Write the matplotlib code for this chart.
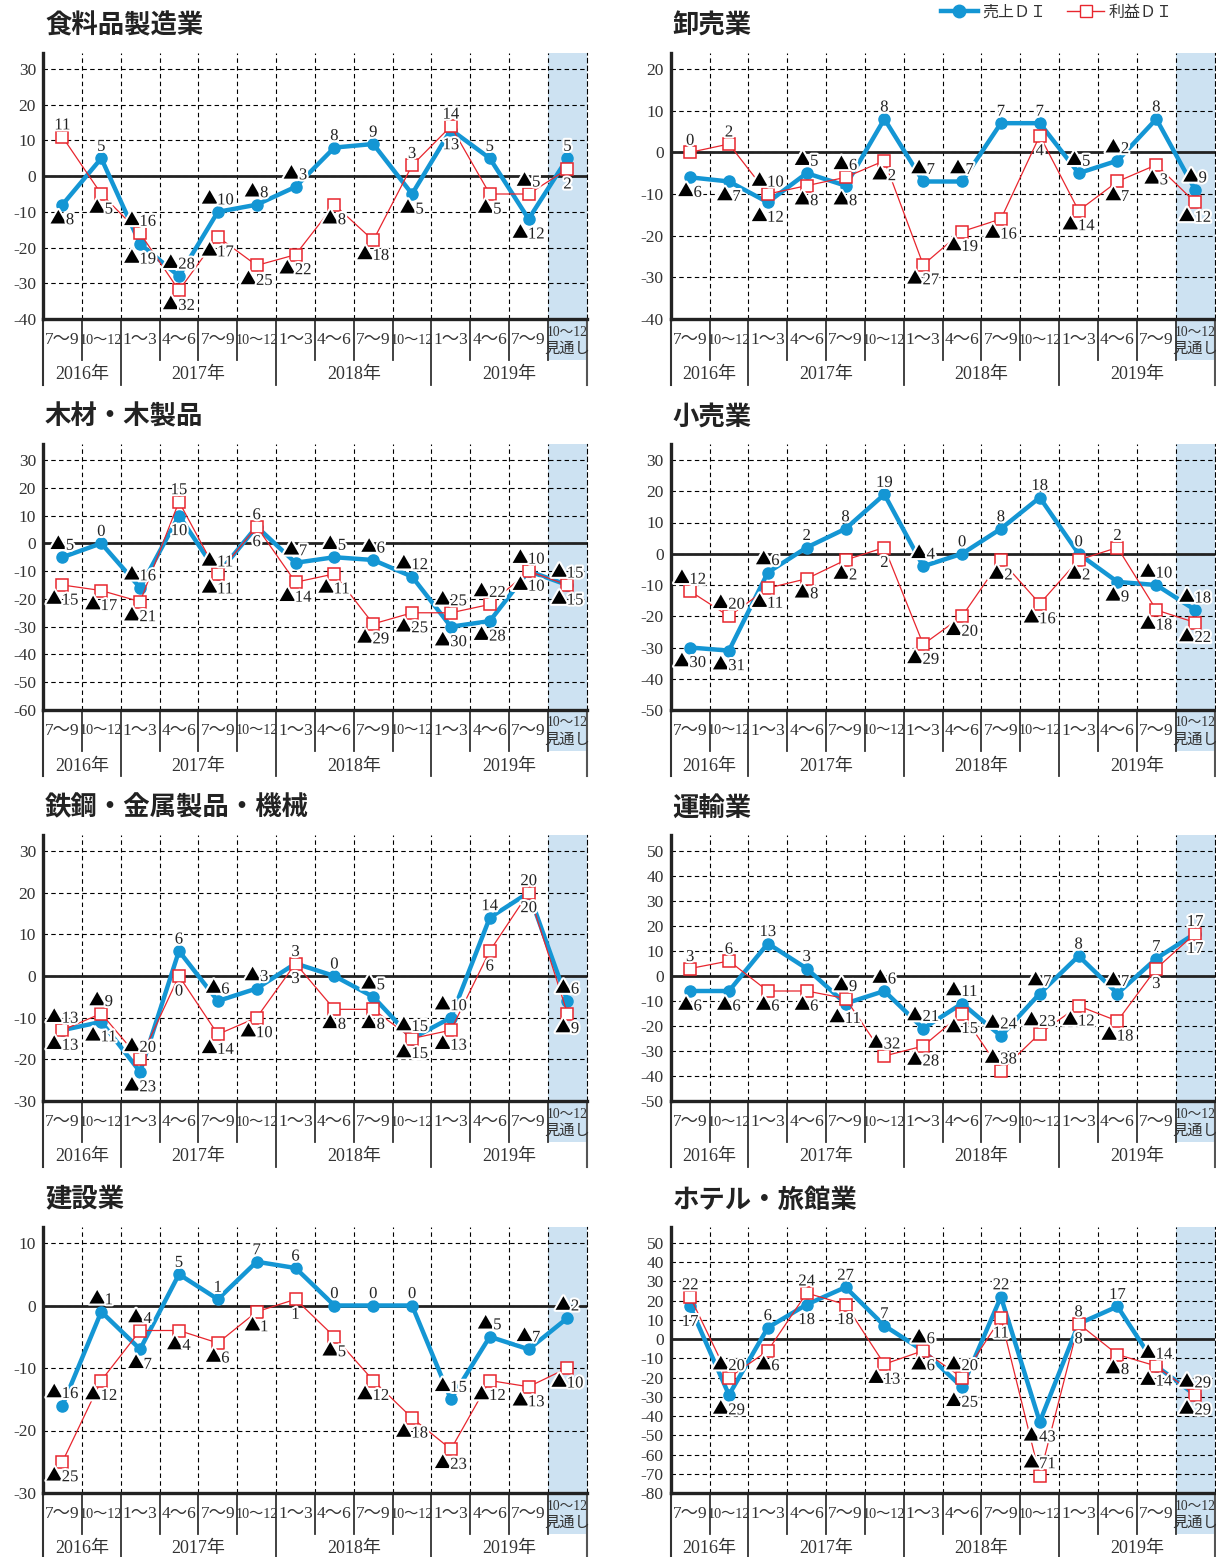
import matplotlib
matplotlib.use('Agg')
import matplotlib.pyplot as plt
from matplotlib.transforms import blended_transform_factory
from matplotlib.lines import Line2D
from matplotlib.patches import Rectangle
from matplotlib.font_manager import FontProperties
import matplotlib.patheffects as pe

# ---------------- data ----------------
quarters = ['7～9', '10～12', '1～3', '4～6', '7～9', '10～12', '1～3', '4～6',
            '7～9', '10～12', '1～3', '4～6', '7～9', '10～12\n見通し']
years = ['2016年', '2017年', '2018年', '2019年']
year_first = [0, 2, 6, 10]
year_last = [1, 5, 9, 13]

titles = ['食料品製造業', '卸売業', '木材・木製品', '小売業',
          '鉄鋼・金属製品・機械', '運輸業', '建設業', 'ホテル・旅館業']

sales_food = [-8, 5, -19, -28, -10, -8, -3, 8, 9, -5, 13, 5, -12, 5]
profit_food = [11, -5, -16, -32, -17, -25, -22, -8, -18, 3, 14, -5, -5, 2]

sales_wholesale = [-6, -7, -12, -5, -8, 8, -7, -7, 7, 7, -5, -2, 8, -9]
profit_wholesale = [0, 2, -10, -8, -6, -2, -27, -19, -16, 4, -14, -7, -3, -12]

sales_wood = [-5, 0, -16, 10, -11, 6, -7, -5, -6, -12, -30, -28, -10, -15]
profit_wood = [-15, -17, -21, 15, -11, 6, -14, -11, -29, -25, -25, -22, -10, -15]

sales_retail = [-30, -31, -6, 2, 8, 19, -4, 0, 8, 18, 0, -9, -10, -18]
profit_retail = [-12, -20, -11, -8, -2, 2, -29, -20, -2, -16, -2, 2, -18, -22]

sales_steel = [-13, -11, -23, 6, -6, -3, 3, 0, -5, -15, -10, 14, 20, -6]
profit_steel = [-13, -9, -20, 0, -14, -10, 3, -8, -8, -15, -13, 6, 20, -9]

sales_transport = [-6, -6, 13, 3, -11, -6, -21, -11, -24, -7, 8, -7, 7, 17]
profit_transport = [3, 6, -6, -6, -9, -32, -28, -15, -38, -23, -12, -18, 3, 17]

sales_construction = [-16, -1, -7, 5, 1, 7, 6, 0, 0, 0, -15, -5, -7, -2]
profit_construction = [-25, -12, -4, -4, -6, -1, 1, -5, -12, -18, -23, -12, -13, -10]

sales_hotel = [17, -29, 6, 18, 27, 7, -6, -25, 22, -43, 8, 17, -14, -29]
profit_hotel = [22, -20, -6, 24, 18, -13, -6, -20, 11, -71, 8, -8, -14, -29]

y_min = [-40, -40, -60, -50, -30, -50, -30, -80]
y_max = [30, 20, 30, 30, 30, 50, 10, 50]

sales_all = [sales_food, sales_wholesale, sales_wood, sales_retail,
             sales_steel, sales_transport, sales_construction, sales_hotel]
profit_all = [profit_food, profit_wholesale, profit_wood, profit_retail,
              profit_steel, profit_transport, profit_construction, profit_hotel]

# label placement overrides: (panel, series, index) -> above?
label_override = {(5, 'p', 5): True, (5, 'p', 8): True, (5, 'p', 9): True,
                  (7, 's', 9): False, (7, 'p', 9): True}

# ---------------- style ----------------
W, H = 1216, 1557
SERIF = ['Liberation Serif', 'Noto Sans CJK JP', 'DejaVu Sans']
GOTHIC = ['Noto Sans CJK JP', 'DejaVu Sans']
BLUE = '#1496d4'
RED = '#e8262e'
SHADE = '#cde2f2'
TXT = '#222222'
DASH = (0, (4, 3))
HALO = [pe.withStroke(linewidth=3, foreground='white')]

fig = plt.figure(figsize=(W / 100, H / 100), dpi=100)
fig.patch.set_facecolor('white')

COLW = 38.85
LEFTS = [43, 670.7]
BOTTOMS = [319, 710, 1101, 1493]

DIGIT_W = 8.2      # px width of one serif digit at 12pt
TRI_W = 15.0       # px width reserved for the triangle


def inch(py):
    return (H - py) / 100.0


def put_label(ax, k, v, above):
    dy = (13 if above else -14) - 5.5   # baseline offset in pixels
    if v < 0:
        num = '%d' % -v
        total = TRI_W + DIGIT_W * len(num)
        x0 = -total / 2
        ax.annotate('▲', (k, v), xytext=(x0 + TRI_W / 2, dy + 0.5), textcoords='offset pixels',
                    ha='center', va='baseline', fontsize=12, fontfamily=GOTHIC,
                    color='black', zorder=6, annotation_clip=False, path_effects=HALO)
        ax.annotate(num, (k, v), xytext=(x0 + TRI_W, dy), textcoords='offset pixels',
                    ha='left', va='baseline', fontsize=12, fontfamily=SERIF,
                    color=TXT, zorder=6, annotation_clip=False, path_effects=HALO)
    else:
        ax.annotate('%d' % v, (k, v), xytext=(0, dy), textcoords='offset pixels',
                    ha='center', va='baseline', fontsize=12, fontfamily=SERIF,
                    color=TXT, zorder=6, annotation_clip=False, path_effects=HALO)


for i in range(8):
    col, row = i % 2, i // 2
    left = LEFTS[col]
    right = left + 14 * COLW
    bottom = BOTTOMS[row]
    top = bottom - 266
    ax = fig.add_axes([left / W, 1 - bottom / H, (right - left) / W, (bottom - top) / H])
    ymin, ymax = y_min[i], y_max[i]
    ax.set_xlim(-0.5, 13.5)
    ax.set_ylim(ymin, ymax + (ymax - ymin) * 16 / 250)

    ticks = list(range(ymin, ymax + 1, 10))
    ax.set_yticks(ticks)
    ax.set_yticklabels([str(t) for t in ticks], fontfamily=SERIF, fontsize=12.5, color='#333333')
    ax.set_xticks([])
    ax.set_xticks([k + 0.5 for k in range(13)], minor=True)
    ax.tick_params(which='both', length=0)
    ax.tick_params(axis='y', pad=5)
    ax.tick_params(axis='x', which='both', labelbottom=False)
    ax.set_axisbelow(True)
    ax.grid(which='major', axis='y', color='black', lw=0.8, ls=DASH)
    ax.grid(which='minor', axis='x', color='black', lw=0.8, ls=DASH)

    ax.spines['top'].set_visible(False)
    ax.spines['right'].set_linestyle(DASH)
    ax.spines['right'].set_linewidth(0.8)
    for s in ('left', 'bottom'):
        ax.spines[s].set_linewidth(2.4)
        ax.spines[s].set_color('#222222')

    ax.axvspan(12.5, 13.5, color=SHADE, zorder=0.2, lw=0)
    ax.axhline(0, color='#222222', lw=2.0, zorder=1.5)

    xs = list(range(14))
    sales = sales_all[i]
    profit = profit_all[i]
    ax.plot(xs, sales, color=BLUE, lw=3.2, marker='o', ms=8, zorder=3, solid_joinstyle='round')
    ax.plot(xs, profit, color=RED, lw=0.9, marker='s', ms=8.5, mfc='white', mec=RED,
            mew=1.1, zorder=4)

    for k in range(14):
        for key, v, o in (('s', sales[k], profit[k]), ('p', profit[k], sales[k])):
            above = (v >= o) if key == 's' else (v > o)
            above = label_override.get((i, key, k), above)
            put_label(ax, k, v, above)

    # ---- category label rows below the plot ----
    trans = blended_transform_factory(ax.transData, fig.dpi_scale_trans)
    ax.add_artist(Rectangle((12.5, inch(bottom + 41)), 1.0, inch(bottom) - inch(bottom + 41),
                            transform=trans, facecolor=SHADE, edgecolor='none',
                            clip_on=False, zorder=0.2))
    for k in range(13):
        xb = k + 0.5
        yb = bottom + 66 if (k + 1) in year_first else bottom + 41
        ax.add_artist(Line2D([xb, xb], [inch(bottom), inch(yb)], transform=trans,
                             color='#333333', lw=1.3, clip_on=False))
    for xb in (-0.5, 13.5):
        ax.add_artist(Line2D([xb, xb], [inch(bottom), inch(bottom + 66)], transform=trans,
                             color='#555555' if xb > 0 else '#333333', lw=1.5, clip_on=False))
    for k, q in enumerate(quarters):
        if '\n' in q:
            a, b = q.split('\n')
            ax.text(k, inch(bottom + 13), a, transform=trans, ha='center', va='center',
                    fontsize=9.8, fontfamily=SERIF, color='#333333')
            ax.text(k, inch(bottom + 30), b, transform=trans, ha='center', va='center',
                    fontsize=11, fontfamily=SERIF, color='#333333')
        else:
            fs = 10.2 if q.startswith('10') else 12.5
            ax.text(k, inch(bottom + 21), q, transform=trans, ha='center', va='center',
                    fontsize=fs, fontfamily=SERIF, color='#333333')
    for yl, a, b in zip(years, year_first, year_last):
        ax.text((a + b) / 2, inch(bottom + 56), yl, transform=trans, ha='center', va='center',
                fontsize=13, fontfamily=SERIF, color='#333333')

    fig.text((left + 2) / W, 1 - (bottom - 293) / H, titles[i], ha='left', va='center',
             fontsize=19, fontweight='bold', fontfamily=GOTHIC, color='#222222')

handles = [Line2D([], [], color=BLUE, lw=3.2, marker='o', ms=9),
           Line2D([], [], color=RED, lw=1.0, marker='s', ms=9, mfc='white', mec=RED)]
fig.legend(handles, ['売上ＤＩ', '利益ＤＩ'], loc='center', bbox_to_anchor=(1057 / W, 1 - 13 / H),
           ncol=2, frameon=False, prop=FontProperties(family=SERIF, size=11.5),
           handlelength=2.3, handletextpad=0.3, columnspacing=1.3, labelcolor='#333333')

fig.savefig('out.png', dpi=100, facecolor='white')
